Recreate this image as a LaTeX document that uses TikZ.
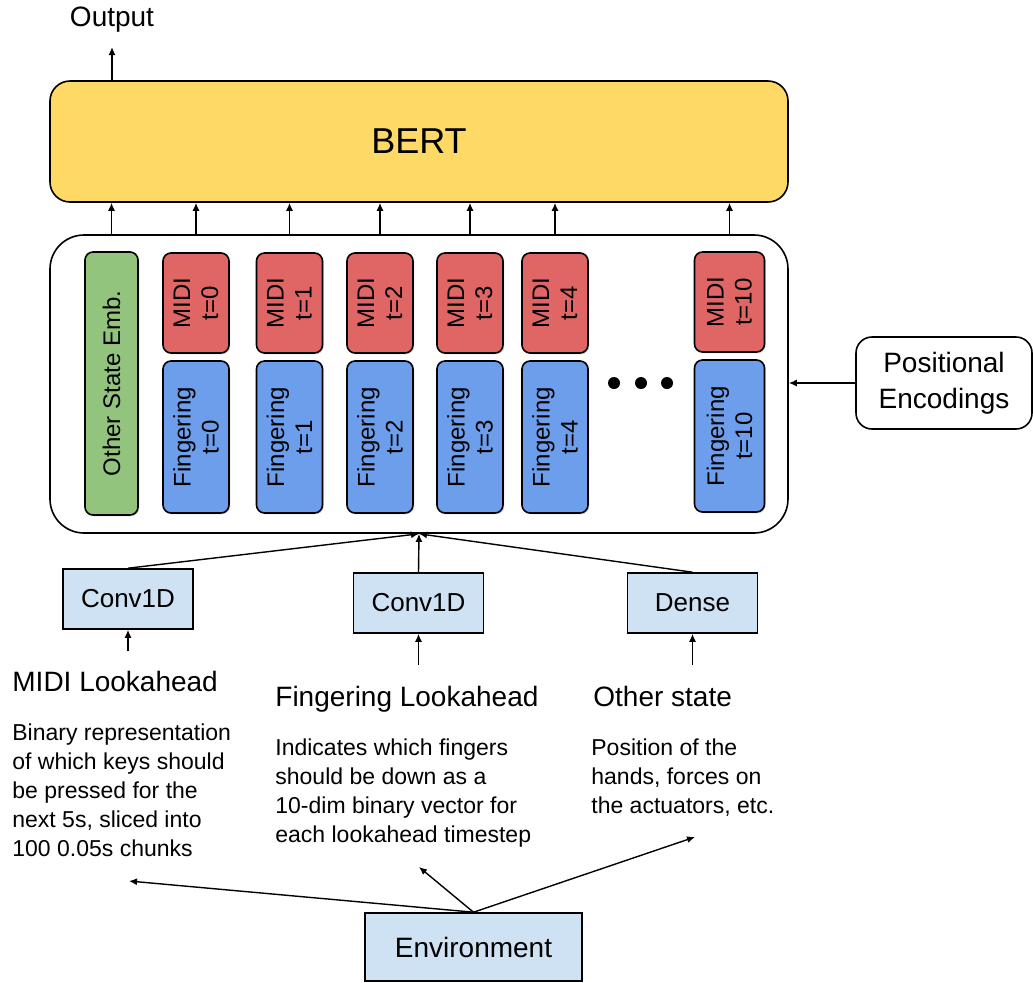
\documentclass[tikz,border=0pt]{standalone}
\usepackage{fontspec}
\setmainfont{Liberation Sans}
\usetikzlibrary{positioning,arrows.meta,shadows}
\definecolor{bertyellow}{HTML}{FFD966}
\definecolor{midired}{HTML}{E06666}
\definecolor{fingblue}{HTML}{6D9EEB}
\definecolor{othgreen}{HTML}{93C47D}
\definecolor{layerblue}{HTML}{CFE2F3}

\begin{document}
\begin{tikzpicture}[x=0.5pt, y=-0.5pt,
  block/.style={draw, line width=0.8pt, rounded corners=4pt, align=center,
                inner sep=1pt, rotate=90, font=\fontsize{12}{14}\selectfont,
                drop shadow={opacity=0.25, shadow xshift=0.7pt, shadow yshift=-0.7pt}},
  midi/.style={block, fill=midired, minimum width=50pt, minimum height=33pt},
  fing/.style={block, fill=fingblue, minimum width=76pt, minimum height=33pt},
  layer/.style={draw, line width=0.8pt, fill=layerblue, minimum width=65pt,
                minimum height=30pt, font=\fontsize{13}{15}\selectfont},
  head/.style={anchor=base west, inner sep=0pt, font=\fontsize{14}{16}\selectfont},
  desc/.style={anchor=north west, inner sep=0pt, align=left,
               font=\fontsize{11.5}{14.5}\selectfont},
  arr/.style={-{Latex[length=4pt, width=3.5pt]}, line width=0.7pt}
]
  \useasboundingbox (0,0) rectangle (1033,982);

  % Model on top
  \node[font=\fontsize{14}{16}\selectfont] (out) at (112,20) {Output};
  \coordinate (outtip) at (112,47);
  \node[draw, line width=0.8pt, fill=bertyellow, rounded corners=10pt,
        minimum width=369pt, minimum height=60.5pt,
        font=\fontsize{18}{20}\selectfont] (bert) at (419,141.5) {BERT};
  \draw[arr] (out |- bert.north) -- (outtip);

  % Input tokens
  \node[draw, line width=0.8pt, rounded corners=17pt, minimum width=369pt,
        minimum height=149pt] (cont) at (419,384) {};
  \node[block, fill=othgreen, minimum width=131.5pt, minimum height=26.5pt]
    (oth) at (111.5,383.5) {Other State Emb.};
  \foreach \x/\t in {196/0, 289.5/1, 380/2, 470/3, 555/4}{
    \node[midi] (m\t) at (\x,303) {MIDI\\t=\t};
    \node[fing] (f\t) at (\x,437) {Fingering\\t=\t};
  }
  \node[midi, minimum height=35pt] (m10) at (729.5,302) {MIDI\\t=10};
  \node[fing, minimum height=35pt] (f10) at (729.5,436) {Fingering\\t=10};
  \foreach \x in {614,641,667}
    \fill (\x,383) circle (3pt);

  % Arrows into BERT
  \foreach \n in {oth,m0,m1,m2,m3,m4,m10}
    \draw[arr] (\n |- cont.north) -- (\n |- bert.south);

  % Positional encodings
  \node[draw, line width=0.8pt, rounded corners=8pt, align=center,
        minimum width=88pt, minimum height=46pt,
        font=\fontsize{14}{18}\selectfont] (pos) at (944,383)
    {Positional\\Encodings};
  \draw[arr] (pos.west) -- (cont.east |- pos.west);

  % Encoders
  \node[layer] (convl) at (128,599) {Conv1D};
  \node[layer] (convm) at (418.5,603) {Conv1D};
  \node[layer] (dense) at (692.5,603) {Dense};
  \draw[arr] (convl.north) -- (cont.south);
  \draw[arr] (convm.north) -- (cont.south);
  \draw[arr] (dense.north) -- (cont.south);

  \coordinate (midiin) at (128,651);
  \coordinate (fingin) at (418.5,665);
  \coordinate (othin)  at (692.5,665);
  \draw[arr] (midiin) -- (convl.south);
  \draw[arr] (fingin) -- (convm.south);
  \draw[arr] (othin)  -- (dense.south);

  % Observation parts
  \node[head] (midih) at (12,691)  {MIDI Lookahead};
  \node[head] (fingh) at (275,706) {Fingering Lookahead};
  \node[head] (othh)  at (593,706) {Other state};
  \node[desc] (midid) at (12,723)
    {Binary representation\\of which keys should\\be pressed for the\\next 5s, sliced into\\100 0.05s chunks};
  \node[desc] (fingd) at (275,738)
    {Indicates which fingers\\should be down as a\\10-dim binary vector for\\each lookahead timestep};
  \node[desc] (othd)  at (591,738)
    {Position of the\\hands, forces on\\the actuators, etc.};

  % Environment
  \node[layer, minimum width=108.5pt, minimum height=34pt,
        font=\fontsize{14}{16}\selectfont] (env) at (473.5,947) {Environment};
  \coordinate (midiout) at (129,881);
  \coordinate (fingout) at (419,867);
  \coordinate (othout)  at (695,837);
  \draw[arr] (env.north) -- (midiout);
  \draw[arr] (env.north) -- (fingout);
  \draw[arr] (env.north) -- (othout);
\end{tikzpicture}
\end{document}
